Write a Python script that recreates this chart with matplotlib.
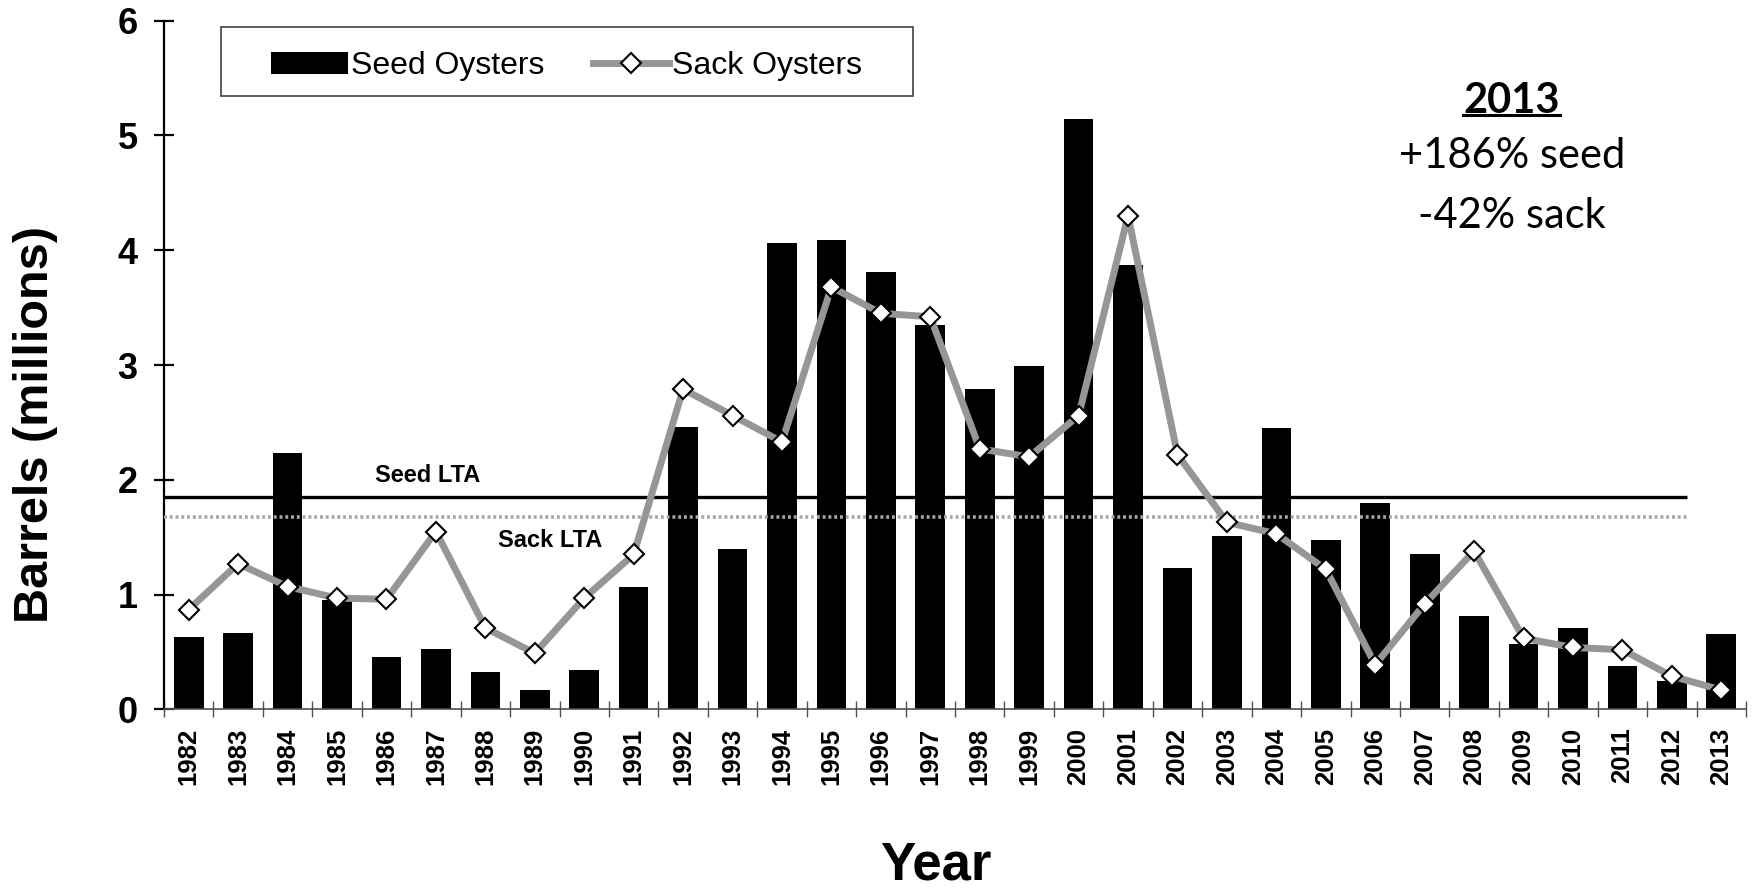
import matplotlib
matplotlib.use("Agg")
import matplotlib.pyplot as plt
from matplotlib.patches import Rectangle
from matplotlib.lines import Line2D
import numpy as np

plt.rcParams["font.family"] = ["Liberation Sans", "DejaVu Sans"]

years = list(range(1982, 2014))
seed = [0.63, 0.67, 2.23, 0.95, 0.46, 0.53, 0.33, 0.17, 0.34, 1.07,
        2.46, 1.40, 4.06, 4.09, 3.81, 3.35, 2.79, 2.99, 5.14, 3.87,
        1.23, 1.51, 2.45, 1.48, 1.80, 1.35, 0.81, 0.57, 0.71, 0.38,
        0.25, 0.66]
sack = [0.87, 1.27, 1.07, 0.97, 0.96, 1.55, 0.71, 0.49, 0.97, 1.35,
        2.79, 2.56, 2.33, 3.68, 3.45, 3.42, 2.27, 2.20, 2.56, 4.30,
        2.22, 1.63, 1.53, 1.22, 0.39, 0.92, 1.38, 0.62, 0.54, 0.52,
        0.29, 0.17]
seed_lta = 1.848
sack_lta = 1.68
notes = ["+186% seed", "-42% sack"]

fig = plt.figure(figsize=(17.52, 8.93), dpi=100)
ax = fig.add_axes([0.0936, 0.2055, 0.903, 0.7715])

x = np.arange(len(years))
bars = ax.bar(x, seed, width=0.6, color="black", zorder=2, label="Seed Oysters")
line, = ax.plot(x, sack, color="#969696", lw=5, marker="D", markersize=10,
                markerfacecolor="white", markeredgecolor="black",
                markeredgewidth=1.5, zorder=5, label="Sack Oysters")

# long term averages
lta_end = len(years) - 1.7
ax.hlines(seed_lta, -0.5, lta_end, color="black", lw=2.4, zorder=3)
ax.hlines(sack_lta, -0.5, lta_end, color="#A6A6A6", lw=2.6,
          linestyles=(0, (0.8, 0.8)), zorder=3)
ax.text(4.84, 2.036, "Seed LTA", ha="center", va="center",
        fontsize=17, fontweight="bold")
ax.text(7.31, 1.469, "Sack LTA", ha="center", va="center",
        fontsize=17, fontweight="bold")

ax.set_xlim(-0.5, len(years) - 0.5)
ax.set_ylim(0, 6)

for s in ["top", "right"]:
    ax.spines[s].set_visible(False)
ax.spines["left"].set_linewidth(1.6)
ax.spines["bottom"].set_linewidth(1.2)
ax.spines["bottom"].set_color("#505050")

ax.set_yticks(range(0, 7))
ax.tick_params(axis="y", direction="inout", length=14, width=1.6,
               labelsize=26, pad=12)
for lab in ax.get_yticklabels():
    lab.set_fontweight("bold")

ax.set_xticks(x)
ax.set_xticklabels([str(y) for y in years], rotation=90, fontsize=18.5,
                   fontweight="bold")
ax.tick_params(axis="x", which="major", length=0, pad=13)
ax.set_xticks(np.arange(-0.5, len(years), 1.0), minor=True)
ax.tick_params(axis="x", which="minor", direction="inout", length=11,
               width=1, color="#505050")

ax.set_ylabel("Barrels (millions)", fontsize=35, fontweight="bold")
ax.yaxis.set_label_coords(-0.067, 0.414)
fig.text(0.534, 0.003, "Year", ha="center", va="bottom",
         fontsize=38, fontweight="bold")

# legend in a box
box = Rectangle((0.036, 0.890), 0.4375, 0.1006, transform=ax.transAxes,
                facecolor="white", edgecolor="#404040", lw=1.2, zorder=6)
ax.add_patch(box)
ax.legend([bars, line], ["Seed Oysters", "Sack Oysters"], loc="center",
          bbox_to_anchor=(0.2547, 0.934), ncol=2, frameon=False,
          fontsize=23, handlelength=2.4, handletextpad=0.1,
          columnspacing=1.5, borderpad=0.2).set_zorder(7)

# 2013 note
t = ax.text(26.76, 5.30, "2013", ha="center", va="center", fontsize=30,
            fontweight="bold", family=["Lato", "DejaVu Sans"])
for i, s in enumerate(notes):
    ax.text(26.76, 4.82 - 0.52 * i, s, ha="center", va="center",
            fontsize=30, family=["Lato", "DejaVu Sans"])

fig.canvas.draw()
bb = t.get_window_extent(fig.canvas.get_renderer())
inv = fig.transFigure.inverted()
(x0, y0), (x1, _) = inv.transform([(bb.x0, bb.y0 + 5), (bb.x1, bb.y0)])
fig.add_artist(Line2D([x0, x1], [y0, y0], color="black", lw=2.2,
                      transform=fig.transFigure))

fig.savefig("out.png", dpi=100)
